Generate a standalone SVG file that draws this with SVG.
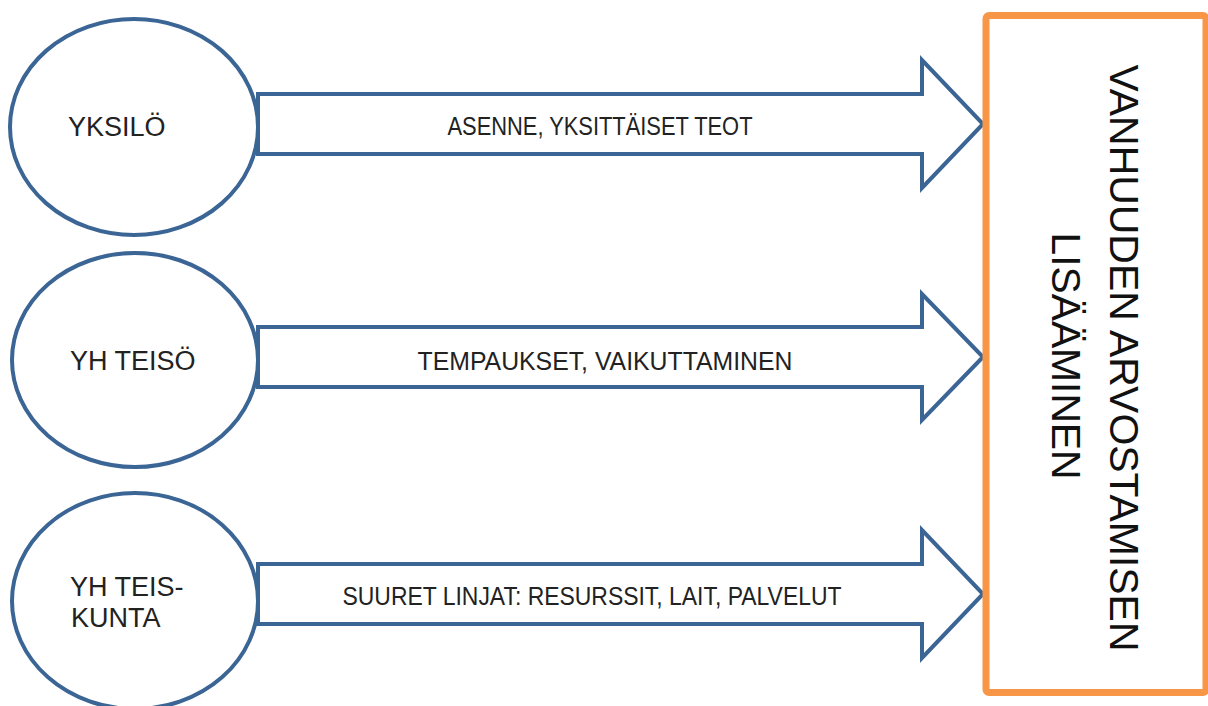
<svg xmlns="http://www.w3.org/2000/svg" width="1208" height="706" viewBox="0 0 1208 706">
<style>
.ell{fill:#fff;stroke:#3A6595;stroke-width:4}
.arr{fill:#fff;stroke:#3A6595;stroke-width:4;stroke-linejoin:miter}
.nt{font-family:"Liberation Sans",Arial,sans-serif;font-size:27px;fill:#222}
.lbl{font-family:"Liberation Sans",Arial,sans-serif;font-size:25px;fill:#222;text-anchor:middle}
.big{font-family:"Liberation Sans",Arial,sans-serif;font-size:40px;fill:#111;text-anchor:middle}
</style>
<rect width="1208" height="706" fill="#fff"/>
<g id="connectors">
<path class="arr" d="M258,94 H922 V60 L983,124 L922,188 V154 H258 Z"/>
<text class="lbl" x="600" y="135" textLength="305" lengthAdjust="spacingAndGlyphs">ASENNE, YKSITTÄISET TEOT</text>
<path class="arr" d="M258,327 H922 V294 L983,357 L922,420 V387 H258 Z"/>
<text class="lbl" x="605" y="370" textLength="375" lengthAdjust="spacingAndGlyphs">TEMPAUKSET, VAIKUTTAMINEN</text>
<path class="arr" d="M258,564 H922 V530 L983,594 L922,658 V624 H258 Z"/>
<text class="lbl" x="592" y="605" textLength="499" lengthAdjust="spacingAndGlyphs">SUURET LINJAT: RESURSSIT, LAIT, PALVELUT</text>
</g>
<g id="yksilo">
<ellipse class="ell" cx="134" cy="127" rx="124" ry="108"/>
<text class="nt" x="68" y="136">YKSILÖ</text>
</g>
<g id="yhteiso">
<ellipse class="ell" cx="135" cy="360" rx="123" ry="107"/>
<text class="nt" x="70" y="370">YH TEISÖ</text>
</g>
<g id="yhteiskunta">
<ellipse class="ell" cx="135" cy="601" rx="123" ry="108"/>
<text class="nt" x="70" y="596">YH TEIS-</text>
<text class="nt" x="71" y="627">KUNTA</text>
</g>
<g id="tavoite">
<rect x="986" y="15.5" width="220" height="677" rx="3" fill="#fff" stroke="#F79646" stroke-width="7"/>
<text class="big" transform="translate(1110,358) rotate(90)" textLength="587" lengthAdjust="spacingAndGlyphs">VANHUUDEN ARVOSTAMISEN</text>
<text class="big" transform="translate(1052,356) rotate(90)" textLength="247" lengthAdjust="spacingAndGlyphs">LISÄÄMINEN</text>
</g>
</svg>
